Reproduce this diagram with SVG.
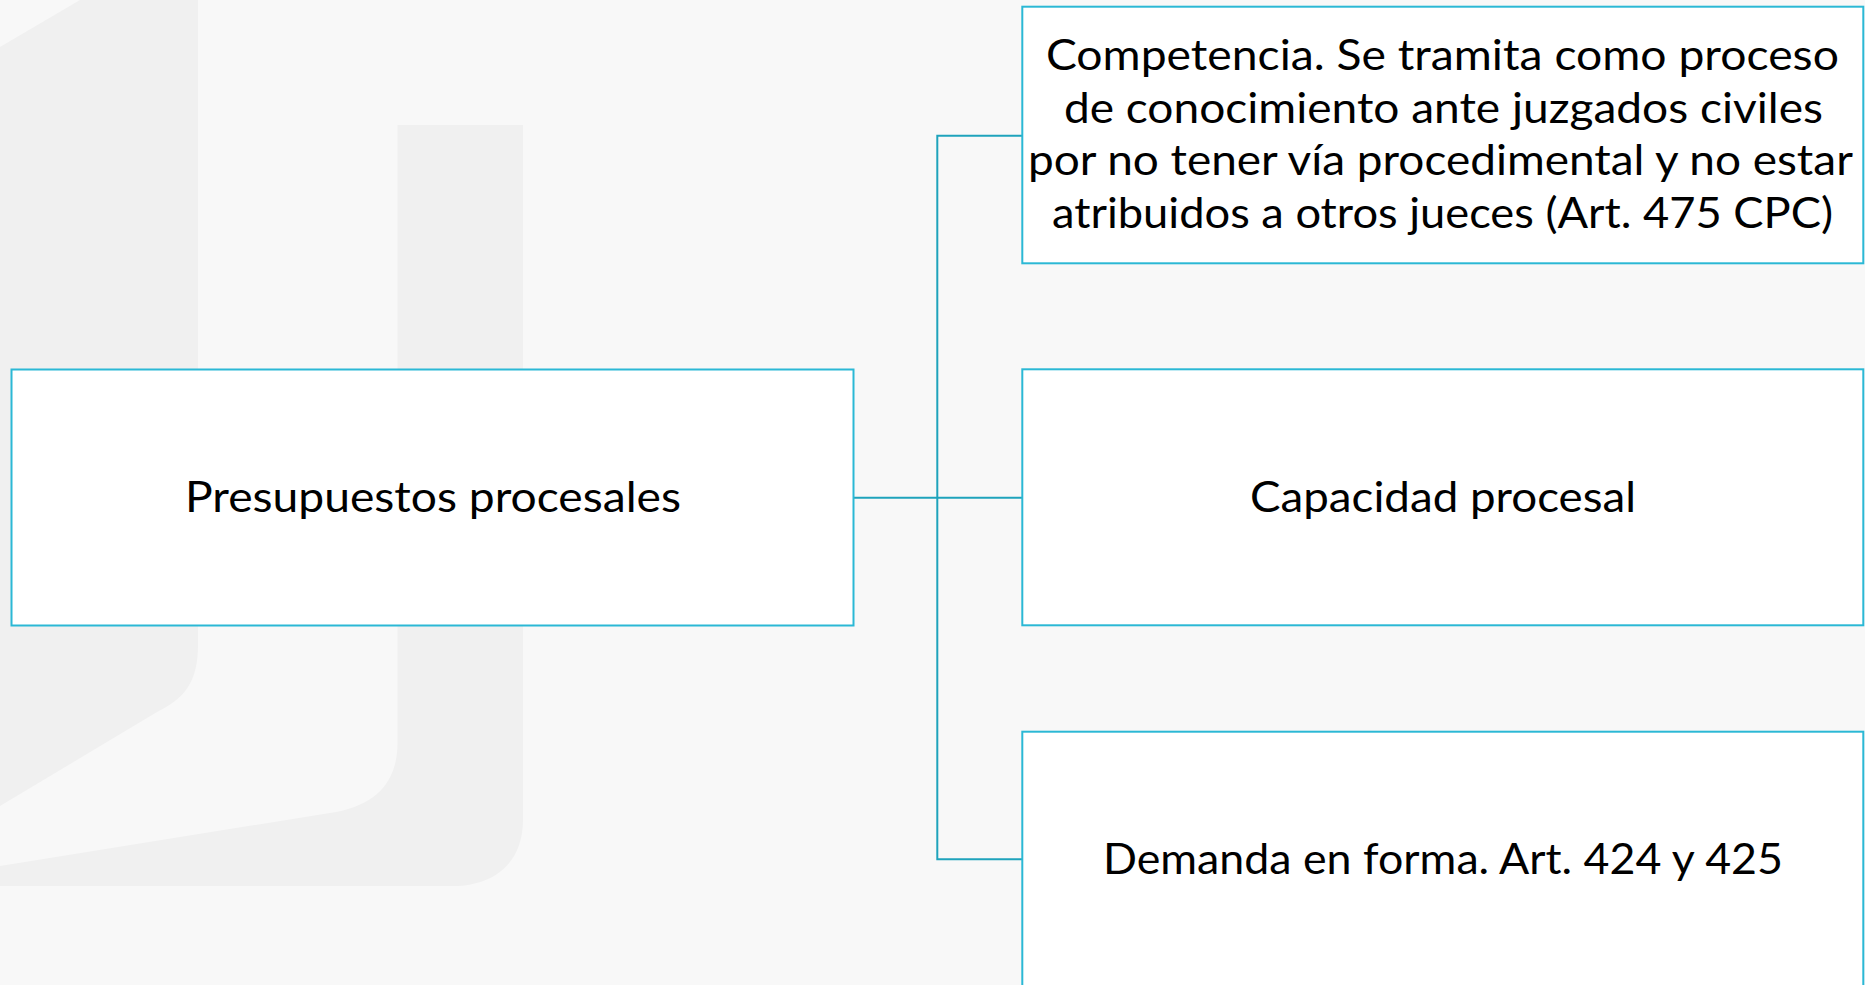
<svg xmlns="http://www.w3.org/2000/svg" width="1865" height="985" viewBox="0 0 1865 985">
<style>
.bg{fill:#f0f0f0}
.box{fill:#ffffff;stroke:#2bb8d5;stroke-width:2}
.conn{fill:none;stroke:#1fa3bc;stroke-width:2}
.t{font-family:Lato,"Open Sans","Noto Sans",sans-serif;font-size:42px;fill:#000000;text-anchor:middle}
</style>
<rect x="0" y="0" width="1865" height="985" fill="#f8f8f8"/>
<g id="background">
<path class="bg" d="M0,47 L80,0 L198,0 L198,645 C198,680 186,698 157,712 L0,806 Z"/>
<path class="bg" d="M397.5,125 L523,125 L523,820 C523,862 495,886 453,886 L0,886 L0,866 L336,812 C378,804 397.5,780 397.5,743 Z"/>
</g>
<g id="connectors">
<path class="conn" d="M853,497.7 H1022.3"/>
<path class="conn" d="M1022.3,135.7 H937.3 V859.3 H1022.3"/>
</g>
<g id="node-presupuestos">
<rect class="box" x="11.5" y="369.5" width="842" height="256"/>
<text class="t" x="433" y="512" textLength="496" lengthAdjust="spacingAndGlyphs">Presupuestos procesales</text>
</g>
<g id="node-competencia">
<rect class="box" x="1022.3" y="6.7" width="841" height="256.6"/>
<text class="t" x="1442.4" y="70" textLength="793" lengthAdjust="spacingAndGlyphs">Competencia. Se tramita como proceso</text>
<text class="t" x="1443.4" y="122.7" textLength="759" lengthAdjust="spacingAndGlyphs">de conocimiento ante juzgados civiles</text>
<text class="t" x="1440.4" y="175" textLength="825" lengthAdjust="spacingAndGlyphs">por no tener vía procedimental y no estar</text>
<text class="t" x="1442.5" y="228.3" textLength="781" lengthAdjust="spacingAndGlyphs">atribuidos a otros jueces (Art. 475 CPC)</text>
</g>
<g id="node-capacidad">
<rect class="box" x="1022.3" y="369.3" width="841" height="256"/>
<text class="t" x="1443" y="512" textLength="386" lengthAdjust="spacingAndGlyphs">Capacidad procesal</text>
</g>
<g id="node-demanda">
<rect class="box" x="1022.3" y="731.7" width="841" height="256"/>
<text class="t" x="1443" y="874" textLength="680" lengthAdjust="spacingAndGlyphs">Demanda en forma. Art. 424 y 425</text>
</g>
</svg>
